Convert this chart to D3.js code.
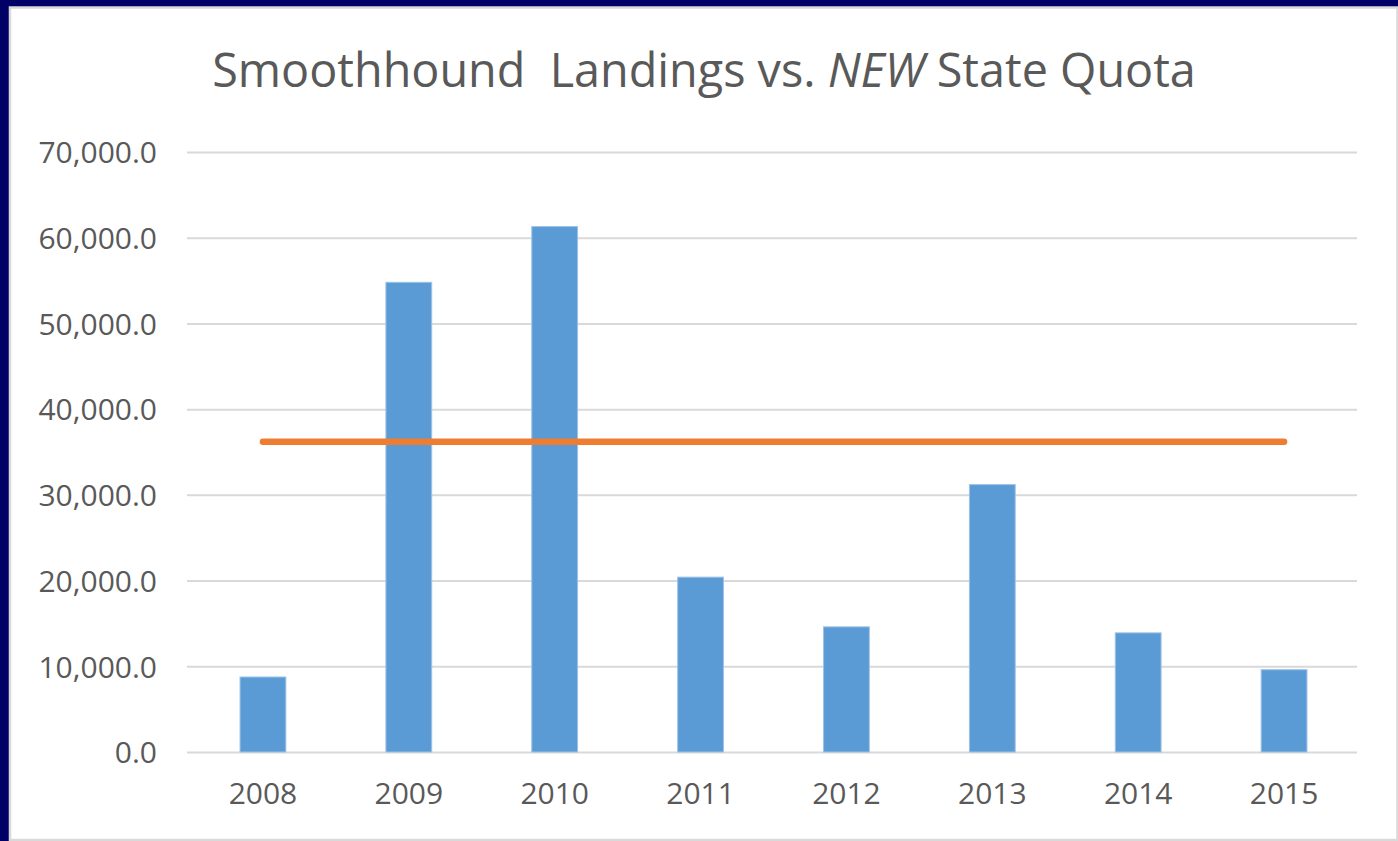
<!DOCTYPE html>
<html>
<head>
<meta charset="utf-8">
<script src="https://cdn.jsdelivr.net/npm/d3@7"></script>
<style>
  html, body { margin: 0; padding: 0; background: #000066; }
  svg { display: block; }
</style>
</head>
<body>
<svg id="chart" width="1398" height="841"></svg>
<script>
const years = ["2008", "2009", "2010", "2011", "2012", "2013", "2014", "2015"];
const landings = [8750, 54800, 61300, 20400, 14600, 31200, 13900, 9600];
const quota = [36200, 36200, 36200, 36200, 36200, 36200, 36200, 36200];
const yTicks = [0, 10000, 20000, 30000, 40000, 50000, 60000, 70000];

const svg = d3.select("#chart");
const W = 1398, H = 841;

// panel
svg.append("rect").attr("x", 0).attr("y", 0).attr("width", W).attr("height", H).attr("fill", "#000066");
svg.append("rect").attr("x", 10).attr("y", 7.5).attr("width", W - 10.5).attr("height", H - 8.5)
  .attr("fill", "#ffffff").attr("stroke", "#d9d9d9").attr("stroke-width", 2.5);

const margin = { left: 187, right: 41, top: 152, bottom: 89 };
const x = d3.scaleBand().domain(years).range([190, W - margin.right]).paddingInner(0.686).paddingOuter(0.343);
const y = d3.scaleLinear().domain([0, 70000]).range([H - margin.bottom, margin.top]);

const fmt = d3.format(",.1f");
const textColor = "#595959";
const font = "'Open Sans', sans-serif";

// gridlines
const yAxis = d3.axisLeft(y).tickValues(yTicks).tickSize(-(W - margin.right - margin.left)).tickFormat(fmt).tickPadding(30);
const gy = svg.append("g").attr("transform", `translate(${margin.left},0)`).call(yAxis);
gy.select(".domain").remove();
gy.selectAll(".tick line").attr("stroke", "#d9d9d9").attr("stroke-width", 2);
gy.selectAll(".tick text").attr("fill", textColor).style("font-family", font).style("font-size", "30px").attr("dy", "0.36em");

// bars
svg.append("g").selectAll("rect").data(landings).join("rect")
  .attr("x", (d, i) => x(years[i]))
  .attr("width", x.bandwidth())
  .attr("y", d => y(d))
  .attr("height", d => y(0) - y(d))
  .attr("fill", "#5b9bd5")
  .attr("stroke", "#9dc3e6").attr("stroke-width", 1);

// x axis labels
const xAxis = d3.axisBottom(x).tickSize(0).tickPadding(31);
const gx = svg.append("g").attr("transform", `translate(0,${y(0)})`).call(xAxis);
gx.select(".domain").remove();
gx.selectAll(".tick text").attr("fill", textColor).style("font-family", font).style("font-size", "30px").attr("dy", "0.71em");

// quota line
const line = d3.line().x((d, i) => x(years[i]) + x.bandwidth() / 2).y(d => y(d));
svg.append("path").datum(quota).attr("d", line)
  .attr("fill", "none").attr("stroke", "#ed7d31").attr("stroke-width", 6.5).attr("stroke-linecap", "round");

// title
const title = svg.append("text").attr("x", 704).attr("y", 87).attr("text-anchor", "middle")
  .attr("fill", textColor).style("font-family", font).style("font-size", "44px").style("white-space", "pre")
  .attr("xml:space", "preserve");
title.append("tspan").text("Smoothhound  Landings vs. ");
title.append("tspan").style("font-style", "italic").text("NEW");
title.append("tspan").text(" State Quota");
const tw = title.node().getComputedTextLength();
const fs = 44 * 984 / tw;
title.style("font-size", fs + "px");
</script>
</body>
</html>
